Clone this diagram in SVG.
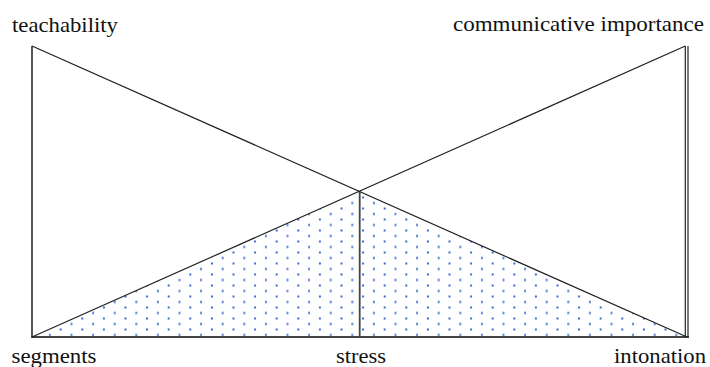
<svg xmlns="http://www.w3.org/2000/svg" width="710" height="367" viewBox="0 0 710 367">
<style>
.lbl{font-family:"Liberation Serif",Tinos,"Times New Roman","DejaVu Serif",serif;font-size:21px;fill:#111}
.ln{stroke:#222;stroke-width:1.2;fill:none}
.frame{stroke:#444;stroke-width:1.8;fill:none}
</style>
<defs>
<pattern id="dots" patternUnits="userSpaceOnUse" x="340.5" y="284.5" width="21.6" height="11">
<rect x="0" y="0" width="2" height="2" fill="#3a6bd0"/>
<rect x="10.8" y="5.5" width="2" height="2" fill="#3a6bd0"/>
</pattern>
</defs>
<g id="fill">
<polygon points="32,337 359.5,191.5 687,337" fill="url(#dots)"/>
</g>
<g id="connectors">
<line class="frame" x1="32" y1="46" x2="32" y2="337"/>
<line class="frame" x1="31" y1="337" x2="689" y2="337" stroke="#666"/>
<line class="frame" x1="359.7" y1="191" x2="359.7" y2="337"/>
<line class="ln" x1="685.3" y1="46" x2="685.3" y2="337"/>
<line class="ln" x1="688" y1="46" x2="688" y2="337" stroke="#777"/>
<line class="ln" x1="32" y1="46" x2="687" y2="337"/>
<line class="ln" x1="32" y1="337" x2="685.3" y2="46"/>
</g>
<g id="label-teachability"><text class="lbl" x="12" y="32" textLength="106" lengthAdjust="spacingAndGlyphs">teachability</text></g>
<g id="label-communicative"><text class="lbl" x="453" y="31" textLength="251" lengthAdjust="spacingAndGlyphs">communicative importance</text></g>
<g id="label-segments"><text class="lbl" x="11.5" y="362.5" textLength="85" lengthAdjust="spacingAndGlyphs">segments</text></g>
<g id="label-stress"><text class="lbl" x="336" y="362.5" textLength="50" lengthAdjust="spacingAndGlyphs">stress</text></g>
<g id="label-intonation"><text class="lbl" x="614" y="362.5" textLength="92" lengthAdjust="spacingAndGlyphs">intonation</text></g>
</svg>
